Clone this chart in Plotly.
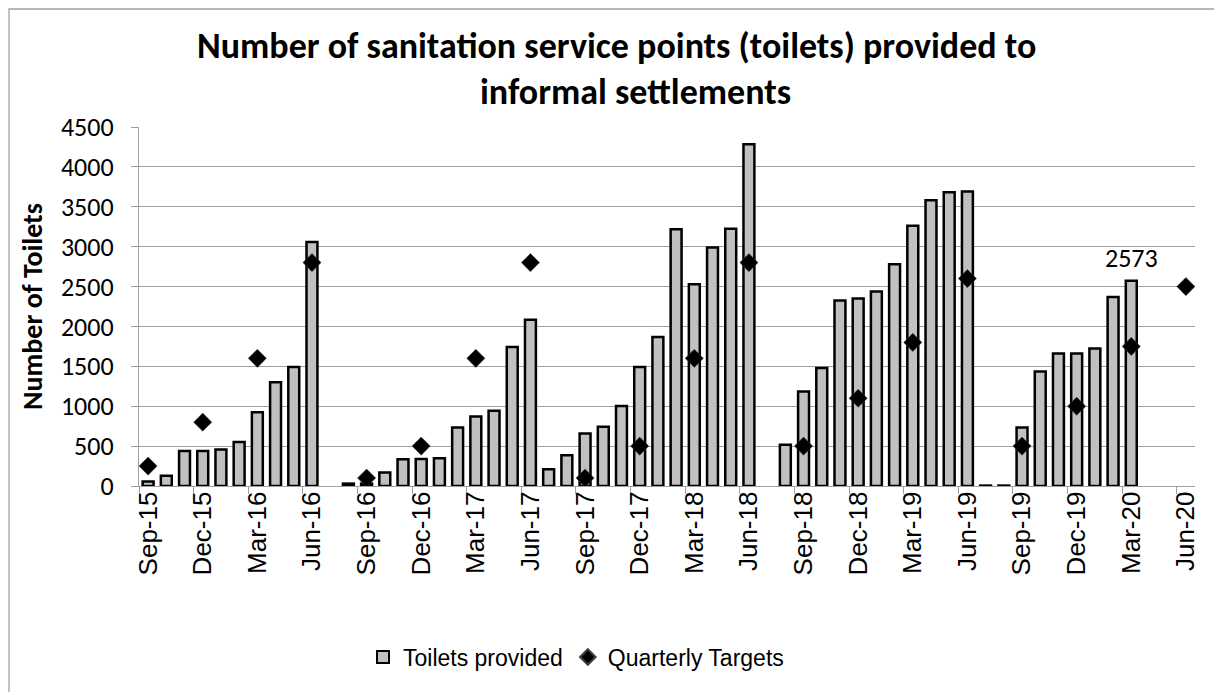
import plotly.graph_objects as go

months = ["Sep-15", "Oct-15", "Nov-15", "Dec-15", "Jan-16", "Feb-16", "Mar-16", "Apr-16", "May-16", "Jun-16",
          "Jul-16", "Aug-16", "Sep-16", "Oct-16", "Nov-16", "Dec-16", "Jan-17", "Feb-17", "Mar-17", "Apr-17",
          "May-17", "Jun-17", "Jul-17", "Aug-17", "Sep-17", "Oct-17", "Nov-17", "Dec-17", "Jan-18", "Feb-18",
          "Mar-18", "Apr-18", "May-18", "Jun-18", "Jul-18", "Aug-18", "Sep-18", "Oct-18", "Nov-18", "Dec-18",
          "Jan-19", "Feb-19", "Mar-19", "Apr-19", "May-19", "Jun-19", "Jul-19", "Aug-19", "Sep-19", "Oct-19",
          "Nov-19", "Dec-19", "Jan-20", "Feb-20", "Mar-20", "Apr-20", "May-20", "Jun-20"]

toilets = [55, 130, 440, 440, 457, 550, 923, 1300, 1493, 3058,
           None, 30, 30, 168, 336, 340, 348, 734, 872, 944,
           1741, 2085, 210, 386, 659, 742, 1002, 1493, 1867, 3217,
           2529, 2991, 3226, 4283, None, 516, 1183, 1480, 2324, 2349,
           2437, 2781, 3263, 3582, 3683, 3691, 5, 5, 734, 1435,
           1661, 1661, 1724, 2370, 2573, None, None, None]

targets = [250, None, None, 800, None, None, 1600, None, None, 2800,
           None, None, 100, None, None, 500, None, None, 1600, None,
           None, 2800, None, None, 100, None, None, 500, None, None,
           1600, None, None, 2800, None, None, 500, None, None, 1100,
           None, None, 1800, None, None, 2600, None, None, 500, None,
           None, 1000, None, None, 1750, None, None, 2500]

labelled_month = "Mar-20"

x = list(range(len(months)))
tick_idx = x[::3]
tick_text = [months[i] for i in tick_idx]
minor_vals = [i - 0.5 for i in range(0, len(months) + 1, 3)]

GRID = "#A0A0A0"
CAL = "Carlito, Calibri, Lato, sans-serif"
ARIAL = "Arial, Liberation Sans, sans-serif"

# plot-area geometry in window pixels (the page body adds an 8px offset)
PX_L, PX_R, PX_T, PX_B = 139, 1195, 127, 486
OFF = 8
W, H = 1222, 692


def px(xw):
    return (xw - PX_L) / (PX_R - PX_L)


def py(yw):
    return (PX_B - yw) / (PX_B - PX_T)


fig = go.Figure()
fig.add_trace(go.Bar(
    x=x, y=toilets, name="Toilets provided", width=0.6,
    marker=dict(color="#C0C0C0", line=dict(color="black", width=2.5)),
))
fig.add_trace(go.Scatter(
    x=x, y=targets, name="Quarterly Targets", mode="markers",
    marker=dict(symbol="diamond", size=14, color="black", line=dict(color="#404040", width=0.5)),
))

li = months.index(labelled_month)
fig.add_annotation(x=li, y=toilets[li], text=str(toilets[li]), showarrow=False,
                   yanchor="bottom", yshift=5, font=dict(family=CAL, size=26, color="black"))

# title lines
fig.add_annotation(xref="paper", yref="paper", x=px(616), y=py(46),
                   text="<b>Number of sanitation service points (toilets) provided to</b>",
                   showarrow=False, xanchor="center", yanchor="middle",
                   font=dict(family=CAL, size=36, color="black"))
fig.add_annotation(xref="paper", yref="paper", x=px(635), y=py(92),
                   text="<b>informal settlements</b>",
                   showarrow=False, xanchor="center", yanchor="middle",
                   font=dict(family=CAL, size=36, color="black"))

# outer frame
fig.add_shape(type="rect", xref="paper", yref="paper",
              x0=px(9), x1=px(1300), y0=py(760), y1=py(9),
              line=dict(color="#A0A0A0", width=1.3), fillcolor="rgba(0,0,0,0)", layer="below")

fig.update_layout(
    width=W, height=H,
    margin=dict(l=PX_L - OFF, r=W - (PX_R - OFF), t=PX_T - OFF, b=H - (PX_B - OFF)),
    paper_bgcolor="white", plot_bgcolor="white",
    showlegend=True,
    legend=dict(orientation="h", x=px(576), xanchor="center",
                y=py(657), yanchor="middle",
                font=dict(family=ARIAL, size=23, color="black"), itemsizing="constant"),
)
fig.update_xaxes(
    range=[-0.5, len(months) - 0.5], tickmode="array", tickvals=tick_idx, ticktext=tick_text,
    tickangle=-90, ticks="", ticklen=0, showgrid=False, showline=True, linecolor=GRID, linewidth=1.3,
    tickfont=dict(family=ARIAL, size=26, color="black"), zeroline=False, ticklabelstandoff=-6,
    minor=dict(tickmode="array", tickvals=minor_vals, ticks="outside", ticklen=7, tickcolor=GRID, showgrid=False),
)
fig.update_yaxes(
    range=[0, 4500], dtick=500, showgrid=True, gridcolor=GRID, gridwidth=1.3,
    showline=True, linecolor=GRID, linewidth=1.3, ticks="outside", ticklen=7, tickcolor=GRID,
    tickfont=dict(family=CAL, size=26, color="black"), zeroline=False, ticklabelstandoff=12,
    title=dict(text="<b>Number of Toilets</b>", font=dict(family=CAL, size=28, color="black"), standoff=10),
)

fig.write_html("out.html")
